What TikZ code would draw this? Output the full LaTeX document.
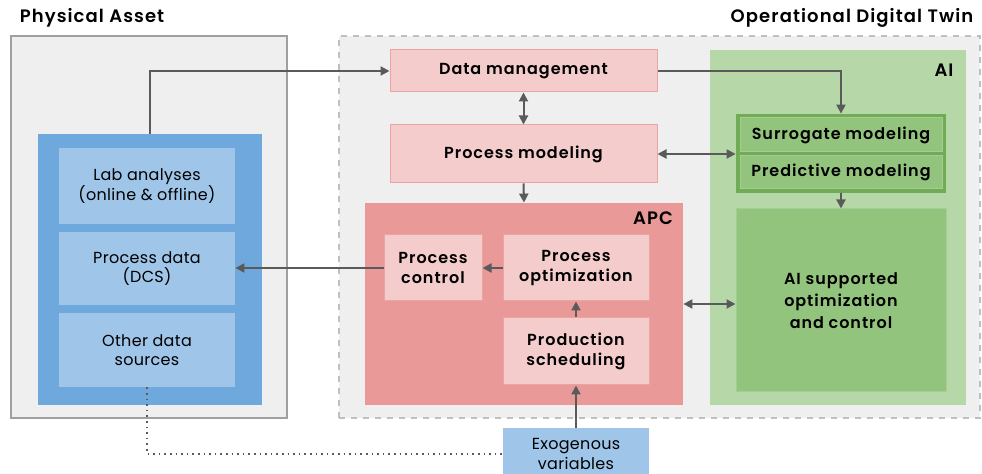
\documentclass[tikz,border=0pt]{standalone}
\usepackage{fontspec}
\setmainfont{Poppins}[BoldFont={Poppins SemiBold}, BoldFeatures={LetterSpace=6}, UprightFeatures={LetterSpace=2}]
\usetikzlibrary{arrows.meta}
\definecolor{framegray}{HTML}{EFEFEF}
\definecolor{framedraw}{HTML}{A0A0A0}
\definecolor{blueout}{HTML}{6FA8DC}
\definecolor{bluein}{HTML}{9FC5E8}
\definecolor{pinkin}{HTML}{F4CCCC}
\definecolor{pinkline}{HTML}{EBA4A4}
\definecolor{apcred}{HTML}{EA9999}
\definecolor{aigreen}{HTML}{B6D7A8}
\definecolor{midgreen}{HTML}{93C47D}
\definecolor{darkgreen}{HTML}{6AA84F}
\definecolor{arrowgray}{HTML}{5A5A5A}
\begin{document}
\begin{tikzpicture}[x=0.5pt, y=-0.5pt,
    every node/.style={rectangle, inner sep=1pt, align=center, font=\fontsize{8}{9.6}\selectfont},
    bluebox/.style={fill=bluein, minimum width=88pt},
    pinkbox/.style={fill=pinkin, draw=pinkline, line width=0.5pt, font=\fontsize{8}{9.6}\selectfont\bfseries},
    greenbox/.style={fill=midgreen, draw=darkgreen!60, line width=0.5pt, minimum width=101pt, font=\fontsize{8}{9.6}\selectfont\bfseries},
    titletext/.style={font=\fontsize{9}{10}\selectfont\bfseries},
    arr/.style={draw=arrowgray, line width=1pt, -{Triangle[length=4.5pt,width=4.5pt]}},
    arrboth/.style={draw=arrowgray, line width=1pt, {Triangle[length=4.5pt,width=4.5pt]}-{Triangle[length=4.5pt,width=4.5pt]}}]
    \useasboundingbox (0,0) rectangle (982,474);
    \fill[white] (0,0) rectangle (982,474);

    % Ramki
    \node[fill=framegray, draw=framedraw, line width=0.8pt, minimum width=138pt, minimum height=191pt] (phys) at (149,227) {};
    \node[fill=framegray, draw=black!25, dashed, line width=0.6pt, minimum width=320.5pt, minimum height=191pt] (twin) at (659.5,227) {};
    \node[titletext] (physlabel) at (92,18) {Physical Asset};
    \node[titletext] (twinlabel) at (852,18) {Operational Digital Twin};

    % Physical asset
    \node[fill=blueout, minimum width=112pt, minimum height=135.5pt] (blueouter) at (150,269.5) {};
    \node[bluebox, minimum height=38pt] (lab) at (147,186) {Lab analyses\\(online \& offline)};
    \node[bluebox, minimum height=36.5pt] (dcs) at (147,268.5) {Process data\\(DCS)};
    \node[bluebox, minimum height=37pt] (other) at (147,350) {Other data\\sources};

    % Digital twin
    \node[pinkbox, minimum width=133.5pt, minimum height=21pt] (dm) at (523.5,71) {Data management};
    \node[pinkbox, minimum width=133.5pt, minimum height=29pt] (pm) at (523.5,154) {Process modeling};
    \node[fill=apcred, minimum width=159pt, minimum height=101pt] (apc) at (524,304) {};
    \node[titletext] (apclabel) at (653,218) {APC};
    \node[pinkbox, minimum width=49pt, minimum height=33pt] (pc) at (433,268) {Process\\control};
    \node[pinkbox, minimum width=73pt, minimum height=33pt] (po) at (576,268) {Process\\optimization};
    \node[pinkbox, minimum width=73pt, minimum height=33.5pt] (ps) at (576,351.5) {Production\\scheduling};
    \node[fill=bluein, minimum width=73pt, minimum height=26pt] (exo) at (576,454) {Exogenous\\variables};

    % AI
    \node[fill=aigreen, minimum width=128pt, minimum height=177.5pt] (ai) at (838,227.5) {};
    \node[titletext] (ailabel) at (944,70) {AI};
    \node[fill=darkgreen!85!midgreen, minimum width=105pt, minimum height=39.5pt] (grp) at (841,153.5) {};
    \node[greenbox, minimum height=17pt] (sur) at (841,135) {Surrogate modeling};
    \node[greenbox, minimum height=16.5pt] (pred) at (841,172.5) {Predictive modeling};
    \node[fill=midgreen, draw=darkgreen!60, line width=0.5pt, minimum width=105pt, minimum height=91.5pt, font=\fontsize{8}{11}\selectfont\bfseries] (aisup) at (841,300.5) {AI supported\\optimization\\and control};

    % Strzałki
    \draw[arr] (blueouter.north) |- (dm.west);
    \draw[arrboth] (dm.south) -- (pm.north);
    \draw[arr] (pm.south) -- (apc.north);
    \draw[arr] (dm.east) -| (grp.north);
    \draw[arrboth] (pm.east) -- (pm.east -| grp.west);
    \draw[arr] (grp.south) -- (aisup.north);
    \draw[arrboth] (apc.east) -- (apc.east -| aisup.west);
    \draw[arr] (po.west) -- (pc.east);
    \draw[arr] (ps.north) -- (po.south);
    \draw[arr] (exo.north) -- (ps.south);
    \draw[arr] (pc.west) -- (pc.west -| dcs.east);
    \draw[draw=arrowgray, dotted, line width=0.8pt] (other.south) |- (exo.west);
\end{tikzpicture}
\end{document}
